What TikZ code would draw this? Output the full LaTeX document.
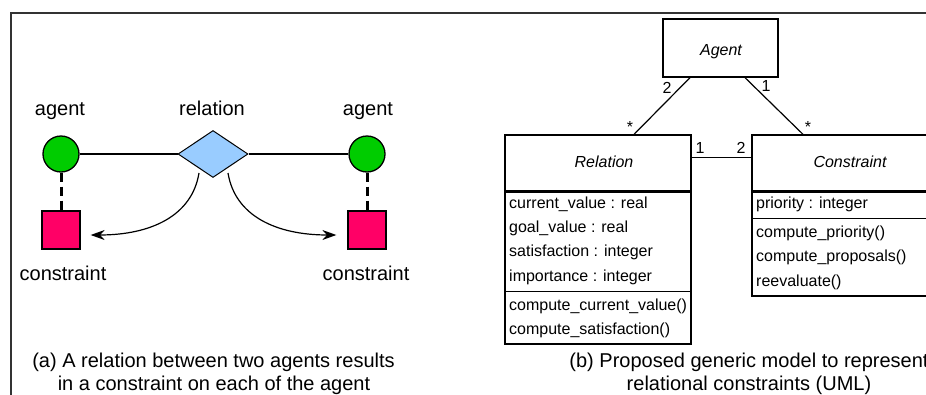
\documentclass[tikz,border=0pt]{standalone}
\usepackage{fontspec}
\setmainfont{Liberation Sans}
\usetikzlibrary{shapes.geometric,arrows.meta,calc}
\definecolor{agentgreen}{HTML}{00CC00}
\definecolor{relblue}{HTML}{99CCFF}
\definecolor{conpink}{HTML}{FF0066}
\tikzset{
  big/.style={font=\fontsize{20}{24}\selectfont, inner sep=0pt},
  small/.style={font=\fontsize{16}{19}\selectfont, inner sep=0pt},
  agentc/.style={circle, draw=black, line width=1.3pt, fill=agentgreen, minimum size=36pt, inner sep=0pt},
  relc/.style={diamond, draw=black, line width=1pt, fill=relblue, aspect=1.49, minimum width=70pt, minimum height=47pt, inner sep=0pt},
  consq/.style={rectangle, draw=black, line width=1.3pt, fill=conpink, minimum size=38pt, inner sep=0pt},
  solidline/.style={line width=1.2pt},
  dashline/.style={line width=3pt, dash pattern=on 9pt off 5pt},
  arr/.style={line width=1.2pt, -{Stealth[length=14pt,width=10pt]}},
  umlbox/.style={rectangle, draw=black, line width=1.3pt, inner sep=0pt},
  thicksep/.style={line width=2.5pt},
  thinsep/.style={line width=1.3pt},
  assoc/.style={line width=1.2pt}
}
\begin{document}
\begin{tikzpicture}[x=1pt,y=-1pt]
\useasboundingbox (0,0) rectangle (926,394);
\clip (0,0) rectangle (926,394);
% frame
\draw[line width=1.6pt, black!80] (11,400) -- (11,13) -- (930,13);

% ---------- left panel ----------
\node[agentc] (a1) at (61,154) {};
\node[agentc] (a2) at (367,154) {};
\node[relc] (dia) at (213,154) {};
\node[consq] (c1) at (61,230) {};
\node[consq] (c2) at (367,230) {};

\node[big, anchor=base] (la1) at (60,115) {agent};
\node[big, anchor=base] (lrel) at (212,115) {relation};
\node[big, anchor=base] (la2) at (368,115) {agent};
\node[big, anchor=base] (lc1) at (63,280) {constraint};
\node[big, anchor=base] (lc2) at (366,280) {constraint};

\draw[solidline] (a1) -- (dia);
\draw[solidline] (dia) -- (a2);
\draw[dashline] (a1) -- (c1);
\draw[dashline] (a2) -- (c2);
\draw[arr] ($(dia.south)+(-14,-5)$) .. controls +(-7,43) and +(60,0) .. ($(c1.east)+(10,5)$);
\draw[arr] ($(dia.south)+(15,-5)$) .. controls +(7,43) and +(-60,0) .. ($(c2.west)+(-11,5)$);

\node[big, anchor=base] (capa1) at (213.5,367) {(a) A relation between two agents results};
\node[big, anchor=base] (capa2) at (214,390) {in a constraint on each of the agent};

% ---------- right panel ----------
\node[umlbox, minimum width=115pt, minimum height=58pt] (agent) at (720.5,48) {};
\node[small, anchor=base] (agentname) at (721,55) {\itshape Agent};

\node[umlbox, minimum width=186pt, minimum height=209pt] (rel) at (598,239.5) {};
\draw[thicksep] ($(rel.north west)+(0,57)$) -- ($(rel.north east)+(0,57)$);
\draw[thinsep] ($(rel.north west)+(0,157)$) -- ($(rel.north east)+(0,157)$);
\node[small, anchor=base] (relname) at (604,167) {\itshape Relation};
\node[small, anchor=base west] (r1) at (509,208) {current\_value : real};
\node[small, anchor=base west] (r2) at (509,232.3) {goal\_value : real};
\node[small, anchor=base west] (r3) at (509,256.6) {satisfaction : integer};
\node[small, anchor=base west] (r4) at (509,281) {importance : integer};
\node[small, anchor=base west] (r5) at (509,310) {compute\_current\_value()};
\node[small, anchor=base west] (r6) at (509,334) {compute\_satisfaction()};

\node[umlbox, minimum width=196pt, minimum height=161pt] (con) at (850,215.5) {};
\draw[thicksep] ($(con.north west)+(0,57)$) -- ($(con.north east)+(0,57)$);
\draw[thinsep] ($(con.north west)+(0,84)$) -- ($(con.north east)+(0,84)$);
\node[small, anchor=base] (conname) at (850,167) {\itshape Constraint};
\node[small, anchor=base west] (k1) at (756,208) {priority : integer};
\node[small, anchor=base west] (k2) at (756,237) {compute\_priority()};
\node[small, anchor=base west] (k3) at (756,261.5) {compute\_proposals()};
\node[small, anchor=base west] (k4) at (756,286) {reevaluate()};

\draw[assoc] ($(agent.south)+(-30.5,0)$) -- ($(rel.north)+(36,0)$);
\draw[assoc] ($(agent.south)+(24.5,0)$) -- ($(con.north)+(-47,0)$);
\draw[assoc] ($(rel.north east)+(0,23)$) -- ($(con.north west)+(0,23)$);

\node[small, anchor=base] (m1) at (667,93) {2};
\node[small, anchor=base] (m2) at (630,132) {*};
\node[small, anchor=base] (m3) at (766,91) {1};
\node[small, anchor=base] (m4) at (808,132) {*};
\node[small, anchor=base] (m5) at (700,153) {1};
\node[small, anchor=base] (m6) at (741,153) {2};

\node[big, anchor=base] (capb1) at (749,367) {(b) Proposed generic model to represent};
\node[big, anchor=base] (capb2) at (749,390) {relational constraints (UML)};
\end{tikzpicture}
\end{document}
